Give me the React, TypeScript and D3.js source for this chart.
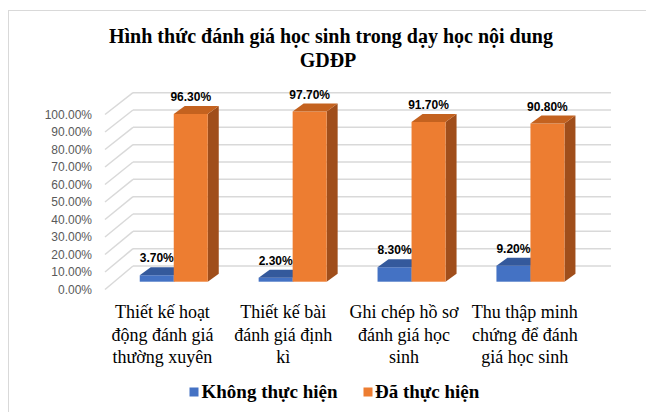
import React from "react";
import * as d3 from "d3";

const categories: string[][] = [
  ["Thiết kế hoạt", "động đánh giá", "thường xuyên"],
  ["Thiết kế bài", "đánh giá định", "kì"],
  ["Ghi chép hồ sơ", "đánh giá học", "sinh"],
  ["Thu thập minh", "chứng để đánh", "giá học sinh"],
];
const seriesNames = ["Không thực hiện", "Đã thực hiện"];
const khongThucHien = [0.037, 0.023, 0.083, 0.092];
const daThucHien = [0.963, 0.977, 0.917, 0.908];
const tickValues = [0, 0.1, 0.2, 0.3, 0.4, 0.5, 0.6, 0.7, 0.8, 0.9, 1.0];

const W = 646;
const H = 412;

const frontColors = ["#4472C4", "#ED7D31"];
const topColors = ["#34599C", "#C4621F"];
const sideColors = ["#2C4C86", "#A04E1B"];

export default function App() {
  const series = [khongThucHien, daThucHien];
  const fmt = d3.format(".2%");

  // front plane (axis labels) and back wall value scales
  const yFront = d3.scaleLinear().domain([0, 1]).range([289.5, 114.5]);
  const yBack = d3.scaleLinear().domain([0, 1]).range([266, 92.7]);
  const wallLeftFront = 105;
  const wallLeftBack = 133;
  const wallRightBack = 611;

  // bar plane
  const yBar = d3.scaleLinear().domain([0, 1]).range([281.7, 107.5]);
  const xGroup = d3
    .scaleBand<number>()
    .domain(d3.range(categories.length))
    .range([114.3, 589.9])
    .paddingInner(0.428)
    .paddingOuter(0.214);
  const xSub = d3
    .scaleBand<number>()
    .domain([0, 1])
    .range([0, xGroup.bandwidth()]);
  const depthDx = 11;
  const depthDy = -8;

  // category labels on the front plane
  const xLabel = d3
    .scaleBand<number>()
    .domain(d3.range(categories.length))
    .range([102, 585.2]);

  const bars: JSX.Element[] = [];
  const labels: JSX.Element[] = [];
  categories.forEach((_, i) => {
    series.forEach((vals, s) => {
      const v = vals[i];
      const x0 = (xGroup(i) as number) + (xSub(s) as number);
      const x1 = x0 + xSub.bandwidth();
      const yb = yBar(0);
      const yt = yBar(v);
      const top = `M${x0},${yt} L${x1},${yt} L${x1 + depthDx},${yt + depthDy} L${x0 + depthDx},${yt + depthDy} Z`;
      const side = `M${x1},${yt} L${x1 + depthDx},${yt + depthDy} L${x1 + depthDx},${yb + depthDy} L${x1},${yb} Z`;
      bars.push(
        <g key={`b${i}-${s}`}>
          <path d={side} fill={sideColors[s]} />
          <rect x={x0} y={yt} width={x1 - x0} height={yb - yt} fill={frontColors[s]} />
          <path d={top} fill={topColors[s]} />
        </g>
      );
      labels.push(
        <text
          key={`l${i}-${s}`}
          x={(x0 + x1) / 2}
          y={yt + depthDy - 5}
          textAnchor="middle"
          fontFamily="'Liberation Sans', Arial, sans-serif"
          fontWeight="bold"
          fontSize={12}
          fill="#000"
        >
          {fmt(v)}
        </text>
      );
    });
  });

  return (
    <svg width={W} height={H} style={{ position: "absolute", left: 0, top: 0 }}>
      <rect x={0} y={0} width={W} height={H} fill="#fff" />
      <rect x={8.5} y={10.5} width={700} height={440} fill="#fff" stroke="#d9d9d9" strokeWidth={1} />
      <text
        x={331}
        y={43}
        textAnchor="middle"
        fontFamily="'Liberation Serif', 'Times New Roman', serif"
        fontWeight="bold"
        fontSize={20}
        fill="#000"
      >
        Hình thức đánh giá học sinh trong dạy học nội dung
      </text>
      <text
        x={328}
        y={67}
        textAnchor="middle"
        fontFamily="'Liberation Serif', 'Times New Roman', serif"
        fontWeight="bold"
        fontSize={20}
        fill="#000"
      >
        GDĐP
      </text>

      {tickValues.map((t) => (
        <g key={`g${t}`}>
          <line
            x1={wallLeftFront}
            y1={yFront(t)}
            x2={wallLeftBack}
            y2={yBack(t)}
            stroke="#d9d9d9"
            strokeWidth={1.5}
          />
          <line
            x1={wallLeftBack}
            y1={yBack(t)}
            x2={wallRightBack}
            y2={yBack(t)}
            stroke="#d9d9d9"
            strokeWidth={1.5}
          />
          <text
            x={92}
            y={yFront(t) + 4}
            textAnchor="end"
            fontFamily="'Liberation Sans', Arial, sans-serif"
            fontSize={12}
            fill="#595959"
          >
            {fmt(t)}
          </text>
        </g>
      ))}

      {bars}
      {labels}

      {categories.map((lines, i) => (
        <text
          key={`c${i}`}
          textAnchor="middle"
          fontFamily="'Liberation Serif', 'Times New Roman', serif"
          fontSize={18}
          fill="#000"
        >
          {lines.map((ln, k) => (
            <tspan key={k} x={(xLabel(i) as number) + xLabel.bandwidth() / 2} y={318 + k * 22.5}>
              {ln}
            </tspan>
          ))}
        </text>
      ))}

      <g>
        <rect x={189.5} y={387.5} width={9} height={9} fill={frontColors[0]} />
        <text
          x={201.5}
          y={397.5}
          fontFamily="'Liberation Serif', 'Times New Roman', serif"
          fontWeight="bold"
          fontSize={19}
          fill="#000"
        >
          {seriesNames[0]}
        </text>
        <rect x={363.5} y={387.5} width={9} height={9} fill={frontColors[1]} />
        <text
          x={375}
          y={397.5}
          fontFamily="'Liberation Serif', 'Times New Roman', serif"
          fontWeight="bold"
          fontSize={19}
          fill="#000"
        >
          {seriesNames[1]}
        </text>
      </g>
    </svg>
  );
}
